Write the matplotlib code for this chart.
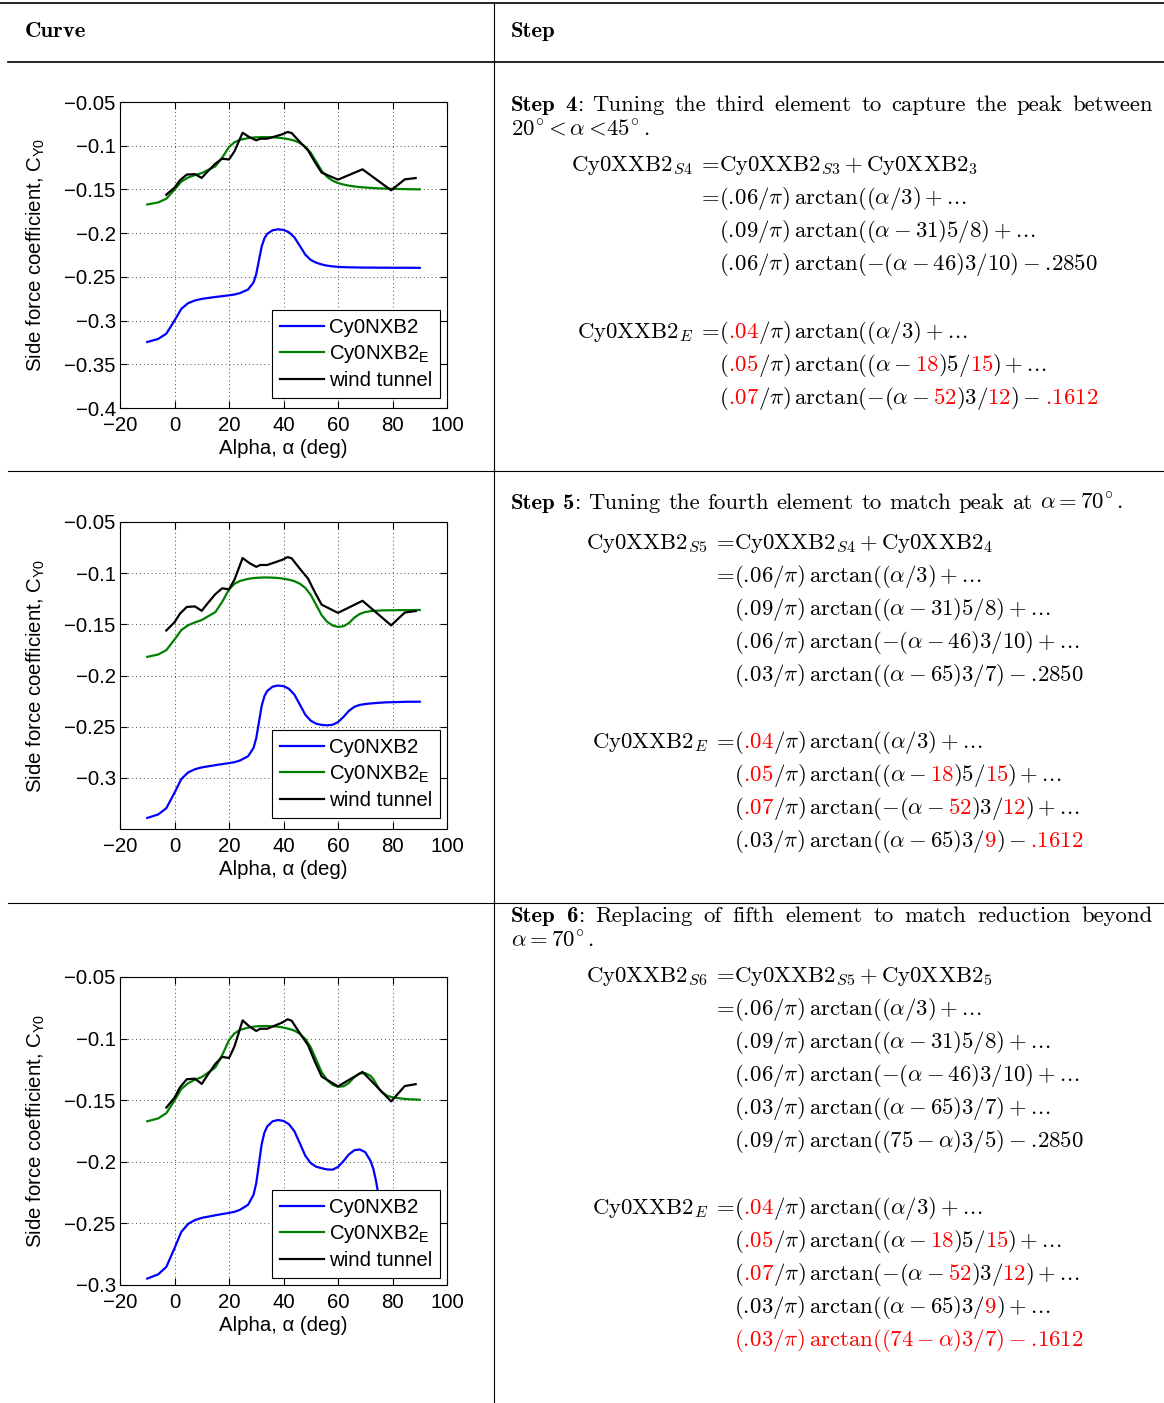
import re
import matplotlib
matplotlib.use("Agg")
import matplotlib.pyplot as plt
from matplotlib.lines import Line2D
from matplotlib.transforms import Affine2D
from matplotlib.ticker import FuncFormatter
from matplotlib.mathtext import MathTextParser
from matplotlib.font_manager import FontProperties

# ---------------- data ----------------
alpha_wt = [-3, 0, 2, 4.5, 7.5, 10, 12, 15, 17.5, 20, 22, 25, 27.5, 30, 31.5, 34, 37,
            39.5, 41.5, 43, 46, 49, 51.5, 54, 60, 69, 79.5, 84.5, 88.5]
cy_wt = [-0.156, -0.148, -0.1396, -0.133, -0.1325, -0.1368, -0.130, -0.1205, -0.1148,
         -0.1158, -0.1064, -0.0852, -0.0902, -0.0938, -0.092, -0.092, -0.0893, -0.087,
         -0.0843, -0.0855, -0.0957, -0.1053, -0.1186, -0.1308, -0.1388, -0.127, -0.151,
         -0.1385, -0.137]

alpha_model = [-10, -6, -3, 0, 2.5, 5, 7.5, 10, 15, 17.5, 20, 22, 24, 27, 29, 30, 31, 32,
               33, 34, 36, 38, 40, 42, 44, 46, 48, 50, 52, 54, 56, 58, 60, 62, 64, 66, 68,
               70, 72, 73, 74, 75, 76, 78, 80, 85, 90]

# step 4
blue_s4 = [-0.3245, -0.3210, -0.3150, -0.3000, -0.2866, -0.2801, -0.2770, -0.2752, -0.2730,
           -0.2721, -0.2711, -0.2702, -0.2686, -0.2645, -0.2564, -0.2468, -0.2310, -0.2152,
           -0.2059, -0.2009, -0.1967, -0.1956, -0.1963, -0.1990, -0.2048, -0.2146, -0.2246,
           -0.2307, -0.2338, -0.2358, -0.2372, -0.2380, -0.2386, -0.2389, -0.2391, -0.2392,
           -0.2393, -0.2394, -0.2394, -0.2394, -0.2395, -0.2395, -0.2395, -0.2395, -0.2396,
           -0.2396, -0.2397]
green_s4 = [-0.1672, -0.1649, -0.1606, -0.1503, -0.1411, -0.1364, -0.1336, -0.1313, -0.1236,
            -0.1136, -0.1015, -0.0961, -0.0933, -0.0913, -0.0906, -0.0904, -0.0903, -0.0902,
            -0.0901, -0.0901, -0.0904, -0.0908, -0.0915, -0.0926, -0.0942, -0.0968, -0.1011,
            -0.1081, -0.1183, -0.1286, -0.1356, -0.1400, -0.1427, -0.1444, -0.1457, -0.1466,
            -0.1473, -0.1478, -0.1482, -0.1484, -0.1486, -0.1488, -0.1489, -0.1491, -0.1493,
            -0.1497, -0.1499]
# step 5
blue_s5 = [-0.3392, -0.3358, -0.3297, -0.3146, -0.3012, -0.2947, -0.2916, -0.2898, -0.2876,
           -0.2866, -0.2856, -0.2847, -0.2831, -0.2789, -0.2708, -0.2612, -0.2454, -0.2295,
           -0.2202, -0.2152, -0.2109, -0.2098, -0.2104, -0.2130, -0.2187, -0.2284, -0.2383,
           -0.2442, -0.2471, -0.2483, -0.2487, -0.2482, -0.2455, -0.2405, -0.2345, -0.2306,
           -0.2287, -0.2279, -0.2273, -0.2271, -0.2269, -0.2267, -0.2265, -0.2262, -0.2261,
           -0.2257, -0.2256]
green_s5 = [-0.1818, -0.1795, -0.1752, -0.1649, -0.1556, -0.1509, -0.1481, -0.1458, -0.1380,
            -0.1280, -0.1159, -0.1104, -0.1076, -0.1056, -0.1048, -0.1046, -0.1044, -0.1043,
            -0.1042, -0.1042, -0.1044, -0.1047, -0.1054, -0.1064, -0.1078, -0.1103, -0.1144,
            -0.1212, -0.1311, -0.1411, -0.1475, -0.1511, -0.1525, -0.1519, -0.1488, -0.1435,
            -0.1398, -0.1380, -0.1371, -0.1368, -0.1367, -0.1366, -0.1364, -0.1363, -0.1362,
            -0.1361, -0.1360]
# step 6
blue_s6 = [-0.2948, -0.2914, -0.2853, -0.2702, -0.2569, -0.2504, -0.2473, -0.2455, -0.2434,
           -0.2424, -0.2415, -0.2406, -0.2390, -0.2349, -0.2268, -0.2173, -0.2015, -0.1856,
           -0.1763, -0.1714, -0.1671, -0.1661, -0.1668, -0.1695, -0.1752, -0.1850, -0.1951,
           -0.2011, -0.2040, -0.2052, -0.2062, -0.2064, -0.2042, -0.1995, -0.1940, -0.1906,
           -0.1900, -0.1922, -0.1995, -0.2060, -0.2160, -0.2290, -0.2420, -0.2567, -0.2619,
           -0.2660, -0.2674]
green_s6 = [-0.1671, -0.1648, -0.1605, -0.1502, -0.1409, -0.1362, -0.1334, -0.1312, -0.1234,
            -0.1134, -0.1013, -0.0958, -0.0930, -0.0911, -0.0903, -0.0901, -0.0899, -0.0898,
            -0.0898, -0.0898, -0.0900, -0.0903, -0.0911, -0.0921, -0.0935, -0.0961, -0.1003,
            -0.1071, -0.1171, -0.1272, -0.1337, -0.1375, -0.1391, -0.1387, -0.1360, -0.1312,
            -0.1283, -0.1280, -0.1303, -0.1329, -0.1367, -0.1405, -0.1432, -0.1463, -0.1477,
            -0.1491, -0.1496]

x_ticks = [-20, 0, 20, 40, 60, 80, 100]
y_ticks1 = [-0.4, -0.35, -0.3, -0.25, -0.2, -0.15, -0.1, -0.05]
y_ticks2 = [-0.3, -0.25, -0.2, -0.15, -0.1, -0.05]
y_ticks3 = [-0.3, -0.25, -0.2, -0.15, -0.1, -0.05]
legend_labels = ["Cy0NXB2", r"Cy0NXB2$_{\rm E}$", "wind tunnel"]

# ---------------- text of the "Step" column ----------------
K, R = "k", "red"
ELL = r" + .\!.\!."

title4 = [[("b", "Step")], [("b", "4"), ("r", ":")], [("r", "Tuning")], [("r", "the")],
          [("r", "third")], [("r", "element")], [("r", "to")], [("r", "capture")],
          [("r", "the")], [("r", "peak")], [("r", "between")]]
title4b = r"20^{\!\circ}\!<\alpha<\!45^{\!\circ}."
title5 = [[("b", "Step")], [("b", "5"), ("r", ":")], [("r", "Tuning")], [("r", "the")],
          [("r", "fourth")], [("r", "element")], [("r", "to")], [("r", "match")],
          [("r", "peak")], [("r", "at")], [("m", r"\alpha = 70^{\!\circ}.")]]
title6 = [[("b", "Step")], [("b", "6"), ("r", ":")], [("r", "Replacing")], [("r", "of")],
          [("r", "fifth")], [("r", "element")], [("r", "to")], [("r", "match")],
          [("r", "reduction")], [("r", "beyond")]]
title6b = r"\alpha = 70^{\!\circ}."

l_06 = r"(.06/\pi)\,\mathrm{arctan}((\alpha/3)" + ELL
l_09 = r"(.09/\pi)\,\mathrm{arctan}((\alpha - 31)5/8)" + ELL
l_46 = r"(.06/\pi)\,\mathrm{arctan}(-(\alpha - 46)3/10)"
l_65 = r"(.03/\pi)\,\mathrm{arctan}((\alpha - 65)3/7)"

s4_lines = [[(r"\mathrm{Cy0XXB2}_{S3} + \mathrm{Cy0XXB2}_{3}", K)], [(l_06, K)], [(l_09, K)],
            [(l_46 + r" - .2850", K)]]
s5_lines = [[(r"\mathrm{Cy0XXB2}_{S4} + \mathrm{Cy0XXB2}_{4}", K)], [(l_06, K)], [(l_09, K)],
            [(l_46 + ELL, K)], [(l_65 + r" - .2850", K)]]
s6_lines = [[(r"\mathrm{Cy0XXB2}_{S5} + \mathrm{Cy0XXB2}_{5}", K)], [(l_06, K)], [(l_09, K)],
            [(l_46 + ELL, K)], [(l_65 + ELL, K)],
            [(r"(.09/\pi)\,\mathrm{arctan}((75 - \alpha)3/5) - .2850", K)]]

e_04 = [("(", K), (".04", R), (r"/\pi)\,\mathrm{arctan}((\alpha/3)" + ELL, K)]
e_05 = [("(", K), (".05", R), (r"/\pi)\,\mathrm{arctan}((\alpha - ", K), ("18", R),
        (")5/", K), ("15", R), (")" + ELL, K)]
e_07a = [("(", K), (".07", R), (r"/\pi)\,\mathrm{arctan}(-(\alpha - ", K), ("52", R),
         (")3/", K), ("12", R)]
e4_lines = [e_04, e_05, e_07a + [(") - ", K), (".1612", R)]]
e5_lines = [e_04, e_05, e_07a + [(")" + ELL, K)],
            [(r"(.03/\pi)\,\mathrm{arctan}((\alpha - 65)3/", K), ("9", R), (") - ", K),
             (".1612", R)]]
e6_lines = [e_04, e_05, e_07a + [(")" + ELL, K)],
            [(r"(.03/\pi)\,\mathrm{arctan}((\alpha - 65)3/", K), ("9", R), (")" + ELL, K)],
            [(r"(.03/\pi)\,\mathrm{arctan}((74 - \alpha)3/7) - .1612", R)]]

# ---------------- figure ----------------
W, H = 1164, 1403
plt.rcParams["font.family"] = ["Liberation Sans", "DejaVu Sans"]
plt.rcParams["mathtext.fontset"] = "custom"
plt.rcParams["mathtext.rm"] = "Liberation Sans"
plt.rcParams["mathtext.it"] = "Liberation Sans:italic"
plt.rcParams["mathtext.bf"] = "Liberation Sans:bold"

fig = plt.figure(figsize=(W / 100, H / 100), dpi=100)
px = Affine2D().scale(1 / W, -1 / H).translate(0, 1) + fig.transFigure
renderer = fig.canvas.get_renderer()


def hline(y, x0, x1, lw):
    fig.add_artist(Line2D([x0, x1], [y, y], transform=px, color="k", lw=lw))


hline(3, 0, W, 1.2)
hline(62, 8, W, 1.2)
hline(471, 8, W, 0.8)
hline(903, 8, W, 0.8)
fig.add_artist(Line2D([494, 494], [3, H], transform=px, color="k", lw=0.8))

fmt = FuncFormatter(lambda v, p: f"{v:g}".replace("-", "\u2212"))
PFS = 14.7


def panel(top, bottom, ylow, yticks, blue, green, leg_gap):
    hgt = bottom - top
    ax = fig.add_axes([120 / W, 1 - bottom / H, 327 / W, hgt / H])
    ax.plot(alpha_model, blue, color="#0000ff", lw=1.6, label=legend_labels[0])
    ax.plot(alpha_model, green, color="#008000", lw=1.6, label=legend_labels[1])
    ax.plot(alpha_wt, cy_wt, color="k", lw=1.6, label=legend_labels[2])
    ax.set_xlim(-20, 100)
    ax.set_ylim(ylow, -0.05)
    ax.set_xticks(x_ticks)
    ax.set_yticks(yticks)
    ax.xaxis.set_major_formatter(fmt)
    ax.yaxis.set_major_formatter(fmt)
    ax.tick_params(direction="in", length=5, width=0.8, top=True, right=True, labelsize=PFS)
    ax.tick_params(axis="x", pad=6)
    ax.tick_params(axis="y", pad=3)
    ax.grid(True, color="0.3", linestyle=(0, (1, 3)), lw=0.7)
    for s in ax.spines.values():
        s.set_linewidth(0.8)
    ax.set_xlabel("Alpha, \u03b1 (deg)", fontsize=PFS)
    ax.set_ylabel(r"Side force coefficient, C$_{\rm Y0}$", fontsize=PFS)
    ax.yaxis.set_label_coords(-0.222, 0.5)
    ax.xaxis.set_label_coords(0.5, -31 / hgt)
    leg = ax.legend(loc="lower right", bbox_to_anchor=(320 / 327, leg_gap / hgt),
                    fontsize=PFS, fancybox=False, framealpha=1, edgecolor="k",
                    borderaxespad=0, handlelength=2.15, handletextpad=0.25,
                    borderpad=0.38, labelspacing=0.3)
    leg.get_frame().set_linewidth(0.8)
    return ax


panel(102, 408, -0.4, y_ticks1, blue_s4, green_s4, 10)
panel(522, 829, -0.35, y_ticks2, blue_s5, green_s5, 11)
panel(977, 1285, -0.3, y_ticks3, blue_s6, green_s6, 7)

# ---------------- right column text ----------------
mparser = MathTextParser("path")


def tight(s):
    # keep decimal points glued to the digits that follow
    return re.sub(r"\.(?=\d)", r".\\!", s)


def mwidth(s, size):
    fp = FontProperties(size=size, math_fontfamily="cm")
    return mparser.parse("$" + tight(s) + "$", dpi=1000, prop=fp).width / 10


FS = 14 * 378 / mwidth(l_46 + r" - .2850", 14)


def mtext(x, y, s, color="k"):
    fig.text(x, y, "$" + tight(s) + "$", transform=px, fontsize=FS, color=color,
             math_fontfamily="cm", va="baseline", ha="left")
    return mwidth(s, FS)


def piece(kind, s):
    if kind == "m":
        t = fig.text(0, 0, "$" + tight(s) + "$", transform=px, fontsize=FS,
                     math_fontfamily="cm", va="baseline")
        return t, mwidth(s, FS)
    fam = "cmb10" if kind == "b" else "cmr10"
    t = fig.text(0, 0, s, transform=px, fontsize=FS, family=fam, va="baseline")
    return t, t.get_window_extent(renderer).width


def para(y, words, x0=511, x1=None):
    made = [[piece(k, s) for k, s in w] for w in words]
    widths = [sum(p[1] for p in w) for w in made]
    if x1 is None:
        gap = 0.333 * FS * 100 / 72
    else:
        gap = (x1 - x0 - sum(widths)) / (len(words) - 1)
    x = x0
    for w, wd in zip(made, widths):
        xx = x
        for t, pw in w:
            t.set_position((xx, y))
            xx += pw
        x += wd + gap


def eq_line(x, y, parts):
    for s, c in parts:
        x += mtext(x, y, s, c)


def block(x_rhs, lhs, lines, ys, n_eq=1):
    for i, (parts, y) in enumerate(zip(lines, ys)):
        if i < n_eq:
            t = fig.text(x_rhs, y, "=", transform=px, fontsize=FS, family="cmr10",
                         va="baseline", ha="right")
            if i == 0:
                weq = t.get_window_extent(renderer).width
                mtext(x_rhs - weq - 9 - mwidth(lhs, FS), y, lhs)
        eq_line(x_rhs, y, parts)


# header
fig.text(25, 37, "Curve", transform=px, fontsize=FS, family="cmb10", va="baseline")
fig.text(511, 37, "Step", transform=px, fontsize=FS, family="cmb10", va="baseline")

# step 4
para(111, title4, 511, 1153)
mtext(511, 136, title4b)
block(719, r"\mathrm{Cy0XXB2}_{S4}", s4_lines, [171, 204, 237, 270], n_eq=2)
block(719, r"\mathrm{Cy0XXB2}_{E}", e4_lines, [338, 371, 404])

# step 5
para(509, title5, 511)
block(734, r"\mathrm{Cy0XXB2}_{S5}", s5_lines, [549, 582, 615, 648, 681], n_eq=2)
block(734, r"\mathrm{Cy0XXB2}_{E}", e5_lines, [748, 781, 814, 847])

# step 6
para(922, title6, 511, 1153)
mtext(511, 947, title6b)
block(734, r"\mathrm{Cy0XXB2}_{S6}", s6_lines, [982, 1015, 1048, 1081, 1114, 1147], n_eq=2)
block(734, r"\mathrm{Cy0XXB2}_{E}", e6_lines, [1214, 1247, 1280, 1313, 1346])

fig.savefig("out.png", dpi=100)
